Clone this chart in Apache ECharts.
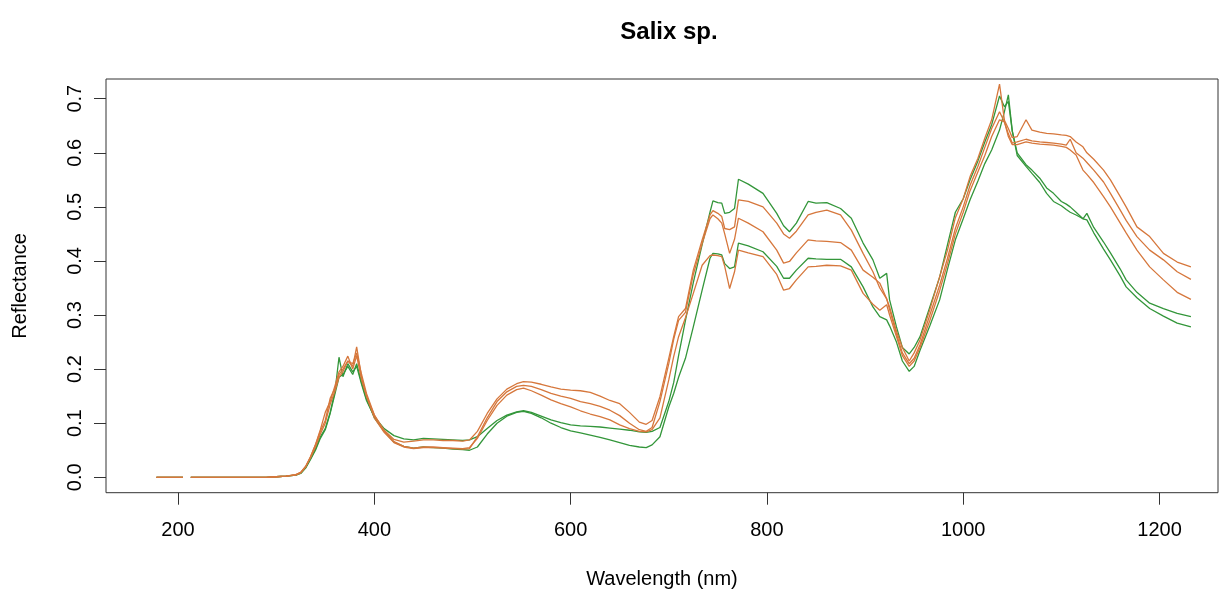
<!DOCTYPE html>
<html>
<head>
<meta charset="utf-8">
<script src="https://cdn.jsdelivr.net/npm/echarts@6/dist/echarts.min.js"></script>
<style>
html,body{margin:0;padding:0;background:#fff;}
#chart{width:1219px;height:590px;}
</style>
</head>
<body>
<div id="chart"></div>
<script>
// Wavelengths (nm); null values mark missing readings
var wavelength = [
  178, 190, 200, 205, 209, 213, 230, 250, 270, 290,
  300, 310, 320, 325, 330, 335, 340, 345, 350, 355,
  360, 364, 368, 373, 378, 382, 387, 392, 400, 410,
  420, 430, 440, 450, 460, 470, 480, 490, 497, 505,
  515, 525, 535, 545, 552, 560, 570, 580, 590, 600,
  610, 620, 630, 640, 650, 660, 670, 677, 683, 691,
  700, 705, 710, 717, 725, 734, 742, 745, 750, 754,
  757, 762, 767, 771, 781, 796, 810, 817, 823, 830,
  842, 850, 861, 875, 886, 898, 908, 915, 922, 925,
  932, 938, 945, 950, 956, 966, 976, 984, 992, 1000,
  1007, 1015, 1022, 1029, 1037, 1042, 1046, 1050, 1055, 1064,
  1070, 1078, 1085, 1092, 1100, 1105, 1109, 1115, 1122, 1126,
  1133, 1143, 1150, 1160, 1166, 1177, 1190, 1204, 1218, 1232
];

var green1 = [
  0, 0, 0, 0, null, 0, 0, 0, 0, 0,
  0.001, 0.002, 0.004, 0.008, 0.018, 0.035, 0.052, 0.075, 0.09, 0.12,
  0.16, 0.222, 0.186, 0.21, 0.195, 0.205, 0.172, 0.142, 0.112, 0.09,
  0.077, 0.071, 0.069, 0.072, 0.071, 0.070, 0.069, 0.068, 0.069, 0.075,
  0.09, 0.105, 0.115, 0.121, 0.123, 0.12, 0.113, 0.106, 0.101, 0.097,
  0.095, 0.094, 0.093, 0.091, 0.089, 0.087, 0.084, 0.083, 0.085, 0.092,
  0.14, 0.175, 0.225, 0.29, 0.36, 0.43, 0.49, 0.511, 0.508, 0.507,
  0.488, 0.49, 0.497, 0.551, 0.542, 0.525, 0.488, 0.465, 0.454, 0.47,
  0.51, 0.507, 0.508, 0.497, 0.479, 0.433, 0.402, 0.368, 0.377, 0.328,
  0.278, 0.24, 0.228, 0.24, 0.26, 0.315, 0.37, 0.43, 0.49, 0.515,
  0.55, 0.585, 0.62, 0.652, 0.705, 0.685, 0.695, 0.64, 0.6, 0.578,
  0.568, 0.553, 0.535, 0.525, 0.51, 0.505, 0.5, 0.49, 0.478, 0.488,
  0.462, 0.435, 0.415, 0.385, 0.365, 0.342, 0.322, 0.312, 0.303, 0.297
];

var green2 = [
  0, 0, 0, 0, null, 0, 0, 0, 0, 0,
  0.001, 0.002, 0.004, 0.007, 0.017, 0.033, 0.05, 0.072, 0.088, 0.118,
  0.155, 0.185, 0.19, 0.205, 0.19, 0.21, 0.175, 0.145, 0.11, 0.085,
  0.065, 0.057, 0.054, 0.056, 0.055, 0.054, 0.052, 0.051, 0.050, 0.056,
  0.08, 0.1, 0.113, 0.12, 0.122, 0.118, 0.11, 0.1, 0.092, 0.086,
  0.082, 0.078, 0.074, 0.069, 0.064, 0.059, 0.056, 0.055, 0.06, 0.075,
  0.13, 0.155, 0.185, 0.22, 0.278, 0.346, 0.405, 0.414, 0.413, 0.411,
  0.395, 0.386, 0.389, 0.433, 0.428, 0.417, 0.39, 0.368, 0.368, 0.383,
  0.405, 0.404, 0.403, 0.403, 0.389, 0.352, 0.315, 0.297, 0.291, 0.28,
  0.25, 0.215, 0.196, 0.205, 0.235, 0.28, 0.328, 0.385, 0.439, 0.478,
  0.513, 0.548, 0.58, 0.605, 0.642, 0.676, 0.707, 0.64, 0.595, 0.575,
  0.562, 0.545, 0.525, 0.51, 0.502, 0.495, 0.49, 0.485, 0.478, 0.476,
  0.452, 0.422, 0.402, 0.372, 0.352, 0.332, 0.312, 0.298, 0.285, 0.278
];

var orange1 = [
  0, 0, 0, 0, null, 0, 0, 0, 0, 0,
  0.001, 0.002, 0.005, 0.009, 0.02, 0.038, 0.06, 0.085, 0.105, 0.146,
  0.165, 0.19, 0.2, 0.215, 0.205, 0.241, 0.185, 0.15, 0.115, 0.087,
  0.07, 0.065, 0.067, 0.069, 0.069, 0.068, 0.068, 0.067, 0.069, 0.085,
  0.118, 0.145, 0.163, 0.173, 0.177, 0.176, 0.172, 0.167, 0.163, 0.161,
  0.16, 0.157, 0.15, 0.142, 0.136, 0.12, 0.102, 0.098, 0.105, 0.149,
  0.22, 0.26, 0.297, 0.312, 0.383, 0.439, 0.485, 0.493, 0.488, 0.482,
  0.46, 0.458, 0.463, 0.513, 0.51, 0.50, 0.47, 0.45, 0.442, 0.455,
  0.485, 0.49, 0.494, 0.485, 0.457, 0.414, 0.38, 0.35, 0.33, 0.315,
  0.27, 0.24, 0.215, 0.23, 0.254, 0.31, 0.371, 0.42, 0.48, 0.515,
  0.556, 0.59, 0.627, 0.661, 0.727, 0.66, 0.645, 0.628, 0.63, 0.661,
  0.642, 0.638, 0.636, 0.635, 0.633, 0.632, 0.63, 0.62, 0.611, 0.6,
  0.588, 0.568, 0.55, 0.519, 0.5, 0.463, 0.445, 0.414, 0.398, 0.389
];

var orange2 = [
  0, 0, 0, 0, null, 0, 0, 0, 0, 0,
  0.001, 0.002, 0.005, 0.009, 0.02, 0.038, 0.06, 0.088, 0.12, 0.14,
  0.17, 0.195, 0.205, 0.224, 0.2, 0.225, 0.18, 0.15, 0.11, 0.083,
  0.064, 0.056, 0.053, 0.055, 0.055, 0.054, 0.053, 0.052, 0.053, 0.075,
  0.11, 0.14, 0.158, 0.168, 0.17, 0.168, 0.162, 0.155, 0.15, 0.146,
  0.14, 0.136, 0.131, 0.124, 0.114, 0.1, 0.088, 0.085, 0.092, 0.14,
  0.21, 0.255, 0.29, 0.305, 0.375, 0.432, 0.478, 0.485, 0.478, 0.47,
  0.45, 0.414, 0.44, 0.479, 0.47, 0.454, 0.42, 0.396, 0.399, 0.415,
  0.439, 0.437, 0.436, 0.434, 0.42, 0.383, 0.37, 0.359, 0.33, 0.31,
  0.265, 0.23, 0.21, 0.22, 0.245, 0.3, 0.355, 0.405, 0.46, 0.5,
  0.54, 0.575, 0.61, 0.645, 0.676, 0.657, 0.635, 0.618, 0.62, 0.625,
  0.622, 0.62, 0.619, 0.618, 0.616, 0.614, 0.625, 0.6, 0.59, 0.582,
  0.568, 0.546, 0.525, 0.494, 0.475, 0.445, 0.42, 0.402, 0.38, 0.366
];

var orange3 = [
  0, 0, 0, 0, null, 0, 0, 0, 0, 0,
  0.001, 0.002, 0.004, 0.008, 0.019, 0.036, 0.056, 0.08, 0.1, 0.135,
  0.16, 0.185, 0.195, 0.215, 0.21, 0.23, 0.19, 0.155, 0.115, 0.085,
  0.066, 0.057, 0.054, 0.056, 0.056, 0.055, 0.054, 0.053, 0.055, 0.072,
  0.105, 0.133, 0.152, 0.162, 0.165, 0.16, 0.152, 0.143, 0.136, 0.13,
  0.123, 0.117, 0.112, 0.106, 0.097, 0.09, 0.085, 0.084, 0.088, 0.11,
  0.18, 0.223, 0.26, 0.295, 0.34, 0.392, 0.41, 0.411, 0.41, 0.408,
  0.39, 0.349, 0.38, 0.42, 0.415, 0.408, 0.375, 0.346, 0.349, 0.365,
  0.389, 0.39, 0.392, 0.391, 0.383, 0.34, 0.32, 0.309, 0.319, 0.3,
  0.26, 0.225, 0.205, 0.215, 0.24, 0.29, 0.345, 0.395, 0.45, 0.49,
  0.53, 0.565, 0.595, 0.63, 0.661, 0.657, 0.63, 0.615, 0.615, 0.62,
  0.618, 0.616, 0.615, 0.614, 0.612, 0.61, 0.605, 0.596, 0.568, 0.56,
  0.545, 0.519, 0.5, 0.47, 0.452, 0.42, 0.389, 0.365, 0.342, 0.329
];

var xTicks = [200, 400, 600, 800, 1000, 1200];
var yTicks = [0, 0.1, 0.2, 0.3, 0.4, 0.5, 0.6, 0.7];

var GREEN = '#33963a';
var ORANGE = '#d6773c';
var FONT = 'Liberation Sans, Arial, Helvetica, sans-serif';

function pairs(vals) {
  return wavelength.map(function (w, i) {
    return [w, vals[i] === null ? '-' : vals[i]];
  });
}

function lineSeries(name, vals, color) {
  return {
    name: name,
    type: 'line',
    data: pairs(vals),
    showSymbol: false,
    symbol: 'none',
    connectNulls: false,
    lineStyle: { color: color, width: 1.3 },
    itemStyle: { color: color },
    emphasis: { disabled: true },
    animation: false
  };
}

var chart = echarts.init(document.getElementById('chart'), null, { renderer: 'canvas' });
chart.setOption({
  backgroundColor: '#ffffff',
  animation: false,
  textStyle: { fontFamily: FONT },
  graphic: [{
    type: 'text',
    x: 669, y: 32,
    style: {
      text: 'Salix sp.',
      textAlign: 'center',
      textVerticalAlign: 'middle',
      font: 'bold 24px ' + FONT,
      fill: '#000'
    }
  }],
  grid: {
    left: 106, top: 79, width: 1112, height: 413.7,
    show: true, borderColor: '#333', borderWidth: 1, backgroundColor: 'transparent',
    containLabel: false, outerBoundsMode: 'none'
  },
  xAxis: {
    type: 'value',
    min: 126.6, max: 1259.6,
    name: 'Wavelength (nm)',
    nameLocation: 'middle',
    nameGap: 77,
    nameTextStyle: { fontSize: 20, color: '#000', fontFamily: FONT },
    axisLine: { show: false, onZero: false },
    axisTick: { show: true, length: 12, inside: false, customValues: xTicks, lineStyle: { color: '#333', width: 1 } },
    axisLabel: {
      customValues: xTicks, fontSize: 20, color: '#000', margin: 28, fontFamily: FONT,
      formatter: function (v) { return String(v); }
    },
    splitLine: { show: false }
  },
  yAxis: {
    type: 'value',
    min: -0.0285, max: 0.7364,
    name: 'Reflectance',
    nameLocation: 'middle',
    nameRotate: 90,
    nameGap: 76,
    nameTextStyle: { fontSize: 20, color: '#000', fontFamily: FONT },
    axisLine: { show: false, onZero: false },
    axisTick: { show: true, length: 12, inside: false, customValues: yTicks, lineStyle: { color: '#333', width: 1 } },
    axisLabel: {
      customValues: yTicks, rotate: 90, fontSize: 20, color: '#000', margin: 21, fontFamily: FONT,
      formatter: function (v) { return v.toFixed(1); }
    },
    splitLine: { show: false }
  },
  series: [
    lineSeries('Green 1', green1, GREEN),
    lineSeries('Green 2', green2, GREEN),
    lineSeries('Orange 1', orange1, ORANGE),
    lineSeries('Orange 2', orange2, ORANGE),
    lineSeries('Orange 3', orange3, ORANGE)
  ]
});
</script>
</body>
</html>
